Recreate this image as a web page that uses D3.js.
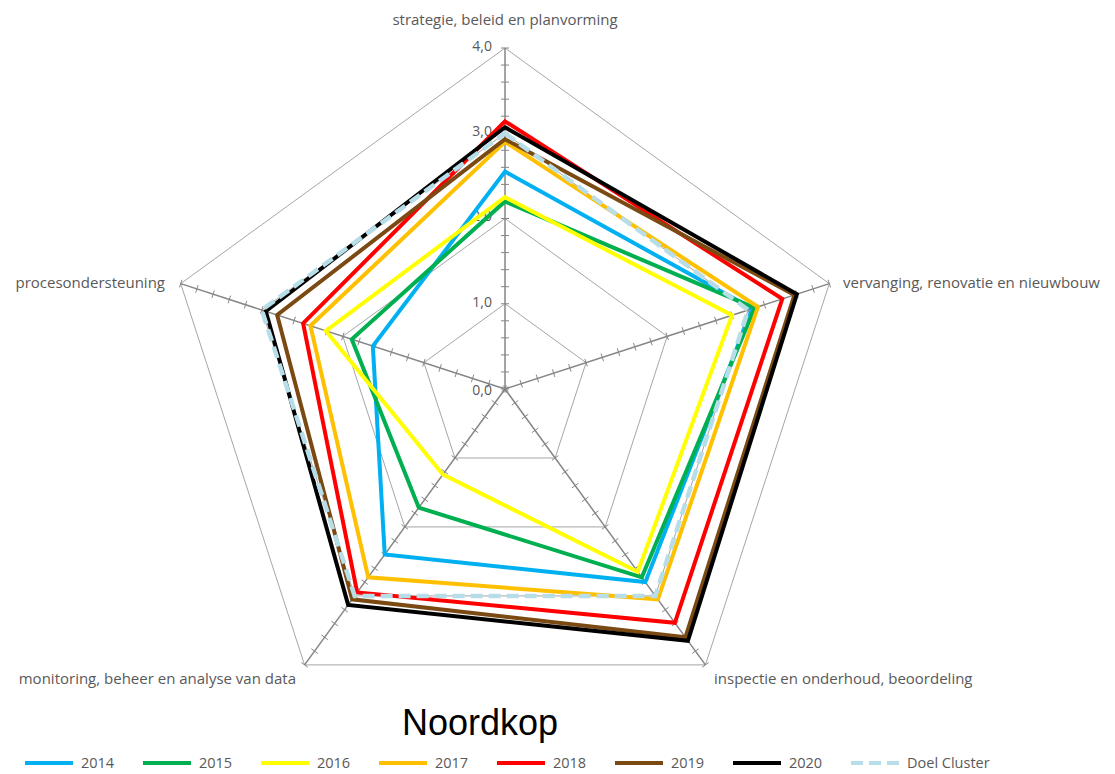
<!DOCTYPE html>
<html>
<head>
<meta charset="utf-8">
<script src="https://cdn.jsdelivr.net/npm/d3@7"></script>
<style>
  body { margin: 0; background: #fff; }
  svg text { font-family: "Open Sans", sans-serif; }
</style>
</head>
<body>
<svg id="drawing_region"></svg>
<script>
// axes of the radar, clockwise from the top
const categories = [
  "strategie, beleid en planvorming",
  "vervanging, renovatie en nieuwbouw",
  "inspectie en onderhoud, beoordeling",
  "monitoring, beheer en analyse van data",
  "procesondersteuning",
];
const seriesNames = ["2014", "2015", "2016", "2017", "2018", "2019", "2020", "Doel Cluster"];
const values2014 = [2.55, 3.05, 2.8, 2.4, 1.63];
const values2015 = [2.2, 3.08, 2.73, 1.72, 1.89];
const values2016 = [2.25, 2.8, 2.65, 1.24, 2.21];
const values2017 = [2.9, 3.12, 3.05, 2.73, 2.4];
const values2018 = [3.14, 3.42, 3.39, 2.95, 2.49];
const values2019 = [2.93, 3.57, 3.6, 3.05, 2.81];
const values2020 = [3.07, 3.6, 3.65, 3.13, 2.95];
const valuesDoel = [3.0, 3.0, 3.0, 3.0, 3.0];
const tickLabels = ["0,0", "1,0", "2,0", "3,0", "4,0"];

const allValues = [values2014, values2015, values2016, values2017, values2018, values2019, values2020, valuesDoel];
const colors = ["#00b0f0", "#00b050", "#ffff00", "#ffc000", "#ff0000", "#7b4a12", "#000000", "#b7dee8"];

const width = 1115, height = 774;
const cx = 505, cy = 389, radius = 341;

const svg = d3.select("#drawing_region").attr("width", width).attr("height", height);
const chart = svg.append("g").attr("transform", `translate(${cx}, ${cy})`);

const rscale = d3.scaleLinear().domain([0, 4]).range([0, radius]);
const angle = (i) => (i * 2 * Math.PI) / categories.length;
const px = (i, v) => rscale(v) * Math.sin(angle(i));
const py = (i, v) => -rscale(v) * Math.cos(angle(i));

// grid pentagons
const gridLine = d3.lineRadial()
  .angle((d, i) => angle(i))
  .radius((d) => rscale(d))
  .curve(d3.curveLinearClosed);

[1, 2, 3, 4].forEach((g) => {
  chart.append("path")
    .attr("d", gridLine(categories.map(() => g)))
    .attr("fill", "none")
    .attr("stroke", "#a6a6a6")
    .attr("stroke-width", 1);
});

// spokes with tick crosses
categories.forEach((c, i) => {
  chart.append("line")
    .attr("x1", 0).attr("y1", 0)
    .attr("x2", px(i, 4)).attr("y2", py(i, 4))
    .attr("stroke", "#868686")
    .attr("stroke-width", 1.5);
  const a = angle(i);
  const nx = Math.cos(a), ny = Math.sin(a);
  d3.range(0, 21).forEach((k) => {
    const v = k * 0.2;
    const x = px(i, v), y = py(i, v);
    chart.append("line")
      .attr("x1", x - nx * 4).attr("y1", y - ny * 4)
      .attr("x2", x + nx * 4).attr("y2", y + ny * 4)
      .attr("stroke", "#868686")
      .attr("stroke-width", 1);
  });
});

// value labels on the top axis
tickLabels.forEach((t, k) => {
  chart.append("text")
    .attr("x", -13)
    .attr("y", -rscale(k) + (k === 0 ? 2 : -1))
    .attr("text-anchor", "end")
    .attr("dominant-baseline", "middle")
    .attr("font-size", "14px")
    .attr("fill", "#595959")
    .text(t);
});

// category labels
const labelPos = [
  { x: 0, y: -368, anchor: "middle" },
  { x: 338, y: -105, anchor: "start" },
  { x: 209, y: 291, anchor: "start" },
  { x: -209, y: 291, anchor: "end" },
  { x: -340, y: -105, anchor: "end" },
];
categories.forEach((c, i) => {
  chart.append("text")
    .attr("x", labelPos[i].x)
    .attr("y", labelPos[i].y)
    .attr("text-anchor", labelPos[i].anchor)
    .attr("dominant-baseline", "middle")
    .attr("font-size", "15px")
    .attr("fill", "#595959")
    .text(c);
});

// series
const seriesLine = d3.lineRadial()
  .angle((d, i) => angle(i))
  .radius((d) => rscale(d))
  .curve(d3.curveLinearClosed);

allValues.forEach((vals, s) => {
  const isDoel = s === allValues.length - 1;
  chart.append("path")
    .attr("d", seriesLine(vals))
    .attr("fill", "none")
    .attr("stroke", colors[s])
    .attr("stroke-width", isDoel ? 4.5 : 4)
    .attr("stroke-linejoin", "miter")
    .attr("stroke-dasharray", isDoel ? "12,6" : null);
});

// title
svg.append("text")
  .attr("x", 480)
  .attr("y", 735)
  .attr("text-anchor", "middle")
  .attr("font-size", "36px")
  .attr("fill", "#000")
  .style("font-family", "'Liberation Sans', sans-serif")
  .text("Noordkop");

// legend
const legend = svg.append("g").attr("transform", "translate(25, 763)");
seriesNames.forEach((name, s) => {
  const g = legend.append("g").attr("transform", `translate(${s * 118}, 0)`);
  g.append("line")
    .attr("x1", 0).attr("x2", 48)
    .attr("y1", 0).attr("y2", 0)
    .attr("stroke", colors[s])
    .attr("stroke-width", 4)
    .attr("stroke-dasharray", s === seriesNames.length - 1 ? "12,6" : null);
  g.append("text")
    .attr("x", 56)
    .attr("y", 1)
    .attr("dominant-baseline", "middle")
    .attr("font-size", "14.5px")
    .attr("fill", "#595959")
    .text(name);
});
</script>
</body>
</html>
